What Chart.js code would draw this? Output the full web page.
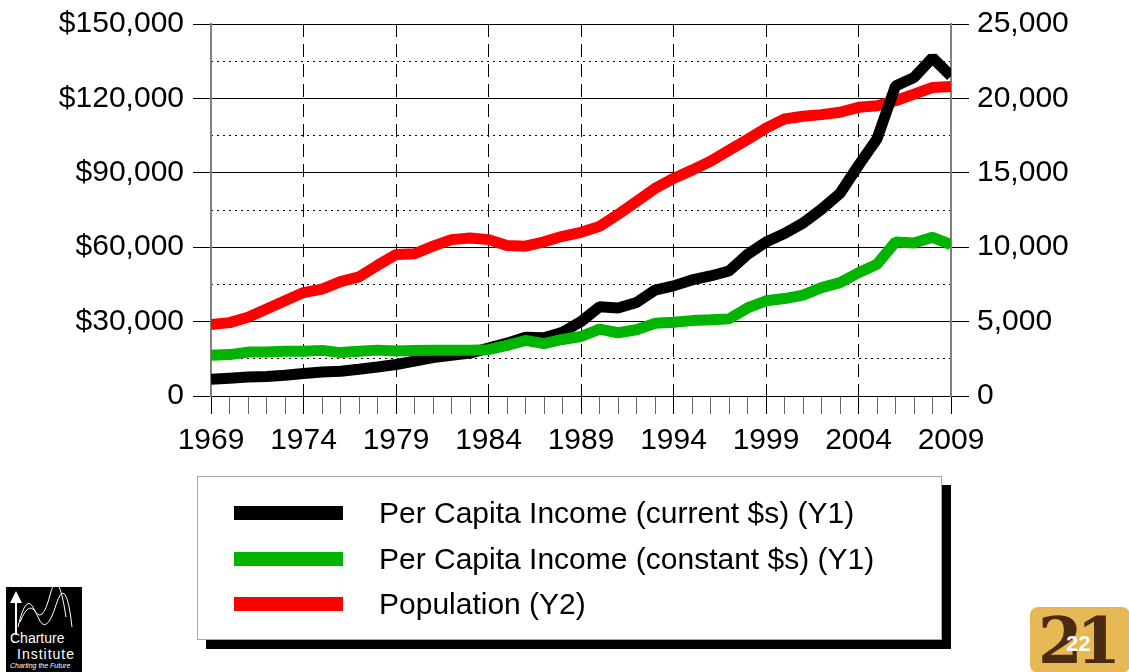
<!DOCTYPE html>
<html>
<head>
<meta charset="utf-8">
<script src="https://cdn.jsdelivr.net/npm/chart.js@4.4.1/dist/chart.umd.min.js"></script>
<style>
    body { margin: 0; background: #fff; font-family: "Liberation Sans", Arial, sans-serif; }
    #wrap { position: relative; width: 1129px; height: 672px; overflow: hidden; }
    #chart { position: absolute; left: 0; top: 0; }
    .legend {
        position: absolute; left: 197px; top: 476px; width: 743px; height: 162px;
        background: #fff; border: 1px solid #aaa; box-shadow: 9px 9px 0 #000;
    }
    .legend .row { position: absolute; left: 0; height: 30px; }
    .legend .swatch { position: absolute; left: 36px; width: 109px; height: 14px; }
    .legend .label { position: absolute; left: 181px; font-size: 30px; color: #000; white-space: nowrap; line-height: 30px; top: -15px; }
    .logo-left {
        position: absolute; left: 6px; top: 587px; width: 76px; height: 85px; background: #000;
        color: #fff; overflow: hidden;
    }
    .logo-left .t1 { position: absolute; left: 4px; top: 43px; font-size: 14px; }
    .logo-left .t2 { position: absolute; left: 11px; top: 59px; font-size: 14px; letter-spacing: 1px; }
    .logo-left .t3 { position: absolute; left: 4px; top: 75px; font-size: 7px; font-style: italic; }
    .logo-right {
        position: absolute; left: 1030px; top: 607px; width: 100px; height: 66px; background: #e6b954;
        border-radius: 8px;
    }
    .logo-right .big { position: absolute; left: 8px; top: -4px; font: bold 64px "DejaVu Serif", serif; color: #4b2c12; letter-spacing: -6px; }
    .logo-right .small { position: absolute; left: 36px; top: 24px; font: bold 22px "Liberation Sans", Arial; color: #fff; }
</style>
</head>
<body>
<div id="wrap">
    <canvas id="chart" width="1129" height="672"></canvas>
    <div class="legend">
        <div class="row" style="top:36px"><div class="swatch" style="background:#000;top:-7px"></div><div class="label">Per Capita Income (current $s) (Y1)</div></div>
        <div class="row" style="top:82px"><div class="swatch" style="background:#00b400;top:-7px"></div><div class="label">Per Capita Income (constant $s) (Y1)</div></div>
        <div class="row" style="top:127px"><div class="swatch" style="background:#ff0000;top:-7px"></div><div class="label">Population (Y2)</div></div>
    </div>
    <div class="logo-left">
        <svg width="76" height="50" style="position:absolute;left:0;top:0">
            <path d="M12 40 Q20 5 28 22 T44 8 T60 30" stroke="#fff" fill="none" stroke-width="1"/>
            <path d="M14 35 Q24 10 32 30 T50 18 T66 40" stroke="#fff" fill="none" stroke-width="1"/>
            <line x1="10" y1="48" x2="10" y2="8" stroke="#fff" stroke-width="2"/>
            <polygon points="4,16 10,4 16,16" fill="#fff"/>
        </svg>
        <div class="t1">Charture</div>
        <div class="t2">Institute</div>
        <div class="t3">Charting the Future</div>
    </div>
    <div class="logo-right">
        <div class="big">21</div>
        <div class="small">22</div>
    </div>
</div>
<script>
// values
const years = [1969, 1970, 1971, 1972, 1973, 1974, 1975, 1976, 1977, 1978, 1979, 1980, 1981, 1982, 1983, 1984, 1985, 1986, 1987, 1988, 1989,
    1990, 1991, 1992, 1993, 1994, 1995, 1996, 1997, 1998, 1999, 2000, 2001, 2002, 2003, 2004, 2005, 2006, 2007, 2008, 2009];
const incomeCurrent = [6700, 7200, 7700, 7900, 8400, 9100, 9700, 10000, 10800, 11700, 12700, 14100, 15500, 16400, 17300, 19300, 21300, 23700, 23500, 25700, 30000,
    36000, 35500, 37700, 42700, 44400, 46800, 48400, 50400, 57100, 62100, 65500, 69700, 75300, 81700, 93000, 103700, 125000, 128400, 136400, 129000];
const incomeConstant = [16400, 16700, 17700, 17700, 18000, 18000, 18400, 17500, 18000, 18500, 18100, 18300, 18400, 18400, 18400, 18700, 20400, 22400, 21100, 22800, 24000,
    27000, 25500, 26700, 29300, 29700, 30400, 30700, 31100, 35500, 38400, 39300, 40700, 43700, 45700, 49700, 53100, 62100, 61700, 64000, 61000];
const population = [4800, 4930, 5290, 5850, 6400, 6950, 7180, 7690, 8000, 8780, 9510, 9560, 10070, 10510, 10620, 10510, 10110, 10070, 10360, 10730, 11000,
    11400, 12200, 13070, 13950, 14620, 15180, 15780, 16510, 17240, 18000, 18620, 18800, 18910, 19070, 19400, 19510, 19840, 20290, 20730, 20800];
const y1Ticks = [0, 30000, 60000, 90000, 120000, 150000];
const y2Ticks = [0, 5000, 10000, 15000, 20000, 25000];

const FONT = { family: '"Liberation Sans", Arial, sans-serif', size: 30, lineHeight: 1 };

function pts(vals) {
    return years.map((y, i) => ({ x: y, y: vals[i] }));
}

function lineSet(label, vals, color, axis, order) {
    return {
        label: label, data: pts(vals), yAxisID: axis, order: order,
        borderColor: color, backgroundColor: color, borderWidth: 11,
        borderJoinStyle: 'bevel', borderCapStyle: 'butt',
        pointRadius: 0, tension: 0, fill: false
    };
}

new Chart(document.getElementById('chart'), {
    type: 'line',
    data: {
        datasets: [
            lineSet('Per Capita Income (constant $s) (Y1)', incomeConstant, '#00b400', 'y1', 0),
            lineSet('Per Capita Income (current $s) (Y1)', incomeCurrent, '#000000', 'y1', 1),
            lineSet('Population (Y2)', population, '#ff0000', 'y2', 2)
        ]
    },
    options: {
        responsive: false,
        animation: false,
        layout: { padding: { top: 21, left: 0, right: 0, bottom: 0 } },
        plugins: { legend: { display: false }, tooltip: { enabled: false } },
        scales: {
            x: {
                type: 'linear', min: years[0], max: years[years.length - 1],
                afterFit: s => { s.height = 672 - 396; },
                ticks: {
                    stepSize: 1, autoSkip: false, maxRotation: 0, color: '#000', font: FONT, padding: 12,
                    callback: v => ((v - 1969) % 5 === 0 ? String(v) : '')
                },
                grid: {
                    color: c => {
                        const v = c.tick && c.tick.value;
                        return (v - 1969) % 5 === 0 && v !== 1969 && v !== 2009 ? '#000' : 'rgba(0,0,0,0)';
                    },
                    tickColor: c => ((c.tick.value - 1969) % 5 === 0 ? '#000' : '#666'),
                    tickLength: 18, lineWidth: 1
                },
                border: { display: false, dash: [13, 7] }
            },
            ym: {
                position: 'left', min: 0, max: 150000,
                afterFit: s => { s.width = 0; },
                ticks: { display: false, stepSize: 15000 },
                grid: {
                    drawTicks: false,
                    color: c => (c.tick && c.tick.value % 30000 !== 0 ? '#000' : 'rgba(0,0,0,0)')
                },
                border: { display: false, dash: [2, 4] }
            },
            y1: {
                position: 'left', min: 0, max: 150000,
                afterFit: s => { s.width = 211; },
                afterBuildTicks: s => { s.ticks = y1Ticks.map(v => ({ value: v })); },
                ticks: {
                    color: '#000', font: FONT, padding: 9,
                    callback: v => (v === 0 ? '0' : '$' + v.toLocaleString('en-US'))
                },
                grid: { color: '#000', tickColor: '#000', tickLength: 18, lineWidth: 1 },
                border: { display: true, color: '#808080', width: 2 }
            },
            y2: {
                position: 'right', min: 0, max: 25000,
                afterFit: s => { s.width = 1129 - 951; },
                afterBuildTicks: s => { s.ticks = y2Ticks.map(v => ({ value: v })); },
                ticks: {
                    color: '#000', font: FONT, padding: 8,
                    callback: v => v.toLocaleString('en-US')
                },
                grid: { drawOnChartArea: false, tickColor: '#000', tickLength: 18 },
                border: { display: true, color: '#808080', width: 2 }
            }
        }
    }
});
</script>
</body>
</html>
